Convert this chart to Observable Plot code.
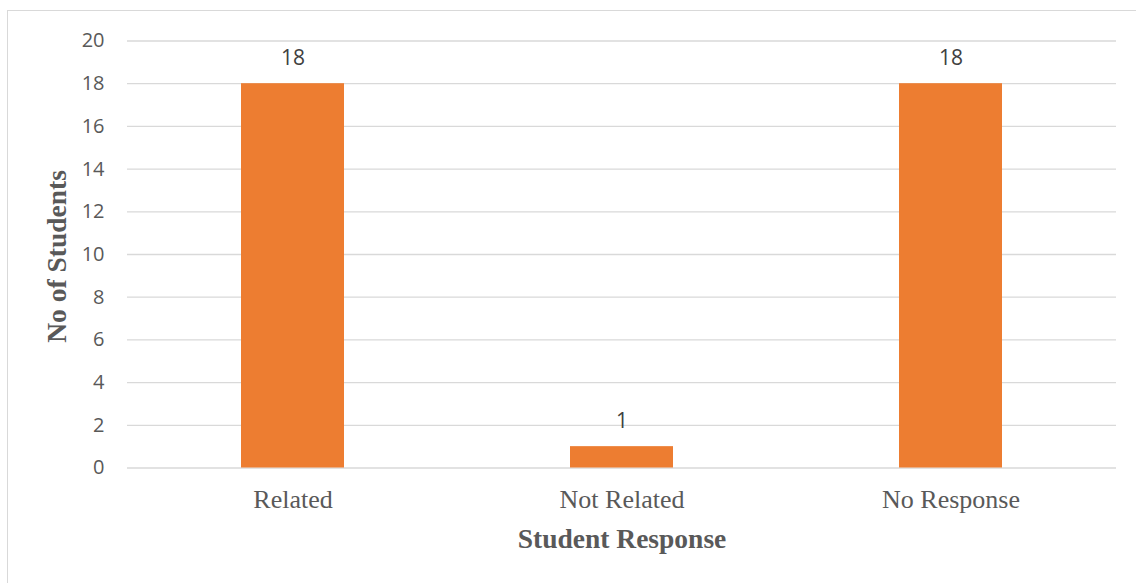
<!DOCTYPE html>
<html>
<head>
<meta charset="utf-8">
<script src="https://cdn.jsdelivr.net/npm/d3@7"></script>
<script src="https://cdn.jsdelivr.net/npm/@observablehq/plot@0.6"></script>
<style>
  html, body { margin: 0; padding: 0; background: #fff; overflow: hidden; }
  #wrap { position: relative; width: 1136px; height: 583px; }
  #frame { position: absolute; left: 7px; top: 10px; width: 1200px; height: 700px;
           border: 1.5px solid #d9d9d9; pointer-events: none; }
  #chart { position: absolute; left: 0; top: 0; }
</style>
</head>
<body>
<div id="wrap">
  <div id="chart"></div>
  <div id="frame"></div>
</div>
<script>
const categories = ["Related", "Not Related", "No Response"];
const counts = [18, 1, 18];
const yTicks = [0, 2, 4, 6, 8, 10, 12, 14, 16, 18, 20];
const xTitle = "Student Response";
const yTitle = "No of Students";

const data = categories.map((c, i) => ({category: c, count: counts[i]}));

const chart = Plot.plot({
  width: 1136,
  height: 583,
  marginLeft: 127,
  marginRight: 20,
  marginTop: 40.5,
  marginBottom: 115.5,
  style: {background: "#fff"},
  x: {domain: categories, paddingInner: 0.687, paddingOuter: 0.3435, align: 0.5, label: null},
  y: {domain: [0, 20], ticks: yTicks, label: null},
  marks: [
    Plot.gridY(yTicks, {stroke: "#d9d9d9", strokeOpacity: 1, strokeWidth: 1.3}),
    Plot.barY(data, {x: "category", y: "count", fill: "#ED7D31"}),
    Plot.text(data, {x: "category", y: "count", text: d => String(d.count), dy: -25,
      lineAnchor: "middle", fontSize: 21, fontFamily: "'Open Sans', sans-serif", fill: "#404040"}),
    Plot.axisY(yTicks, {tickSize: 0, tickPadding: 23, fontSize: 20,
      fontFamily: "'Open Sans', sans-serif", fill: "#595959", label: null}),
    Plot.axisX({tickSize: 0, tickPadding: 22, fontSize: 26,
      fontFamily: "'Liberation Serif', 'Times New Roman', serif", fill: "#595959", label: null}),
    Plot.text([xTitle], {frameAnchor: "bottom", dy: 71.5, lineAnchor: "middle",
      fontSize: 27.5, fontWeight: "bold", fontFamily: "'Liberation Serif', 'Times New Roman', serif", fill: "#595959"}),
    Plot.text([yTitle], {frameAnchor: "left", textAnchor: "middle", dx: -70, dy: 2, rotate: -90, lineAnchor: "middle",
      fontSize: 27.5, fontWeight: "bold", fontFamily: "'Liberation Serif', 'Times New Roman', serif", fill: "#595959"})
  ]
});
document.getElementById("chart").appendChild(chart);
</script>
</body>
</html>
